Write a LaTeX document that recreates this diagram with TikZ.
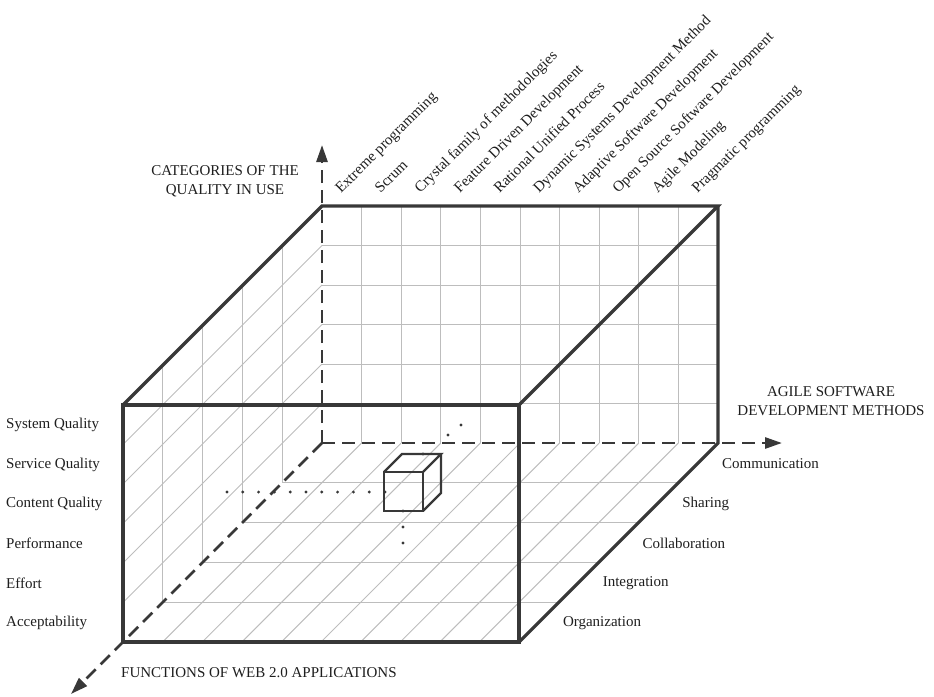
\documentclass[tikz,border=0pt]{standalone}
\usepackage{fontspec}
\setmainfont{Liberation Serif}
\usetikzlibrary{arrows.meta}
\definecolor{edgecol}{HTML}{383838}
\definecolor{gridcol}{HTML}{BDBDBD}
\definecolor{txtcol}{HTML}{1E1E1E}
\tikzset{
  gridline/.style={draw=gridcol, line width=1pt},
  edgeline/.style={draw=edgecol, line width=3.2pt, line join=miter},
  axisline/.style={draw=edgecol, line width=2.7pt, dash pattern=on 13pt off 7pt,
    -{Triangle[length=17pt,width=11pt]}},
  cubeline/.style={draw=edgecol, line width=2.4pt, line join=miter},
  lbl/.style={font=\fontsize{15}{19}\selectfont, text=txtcol, inner sep=0pt},
  toplbl/.style={lbl, anchor=base west, rotate=45},
  dotmark/.style={fill=edgecol, draw=none}
}
\begin{document}
\begin{tikzpicture}[x=1pt, y=-1pt]
\useasboundingbox (0,0) rectangle (934,696);
% corners of the big cube
\coordinate (BTL) at (322,206);
\coordinate (BTR) at (718,206);
\coordinate (BBR) at (718,443);
\coordinate (BBL) at (322,443);
\coordinate (FTL) at (123,405);
\coordinate (FTR) at (519,405);
\coordinate (FBL) at (123,642);
\coordinate (FBR) at (519,642);
\coordinate (Yend) at (322,145);
\coordinate (Xend) at (782,443);
\coordinate (Zend) at (71,694);
% back wall grid
\foreach \i in {1,...,9}
  \draw[gridline] ({322+39.6*\i},206) -- ({322+39.6*\i},443);
\foreach \j in {1,...,5}
  \draw[gridline] (322,{206+39.5*\j}) -- (718,{206+39.5*\j});
% left wall grid
\foreach \k in {1,...,4}
  \draw[gridline] ({322-39.8*\k},{206+39.8*\k}) -- ({322-39.8*\k},{443+39.8*\k});
\foreach \j in {1,...,5}
  \draw[gridline] (322,{206+39.5*\j}) -- (123,{405+39.5*\j});
% floor grid
\foreach \k in {1,...,4}
  \draw[gridline] ({322-39.8*\k},{443+39.8*\k}) -- ({718-39.8*\k},{443+39.8*\k});
\foreach \i in {1,...,9}
  \draw[gridline] ({322+39.6*\i},443) -- ({123+39.6*\i},642);
% axes
\draw[axisline] (BBL) -- (Yend);
\draw[axisline] (BBL) -- (Xend);
\draw[axisline] (BBL) -- (Zend);
% thick edges
\draw[edgeline] (FTL) -- (FTR) -- (FBR) -- (FBL) -- cycle;
\draw[edgeline] (FTL) -- (BTL) -- (BTR) -- (FTR);
\draw[edgeline] (BTR) -- (BBR) -- (FBR);
% small cube
\coordinate (cFTL) at (384,472);
\coordinate (cFTR) at (423,472);
\coordinate (cFBL) at (384,511);
\coordinate (cFBR) at (423,511);
\coordinate (cBTL) at (402,454);
\coordinate (cBTR) at (441,454);
\coordinate (cBBR) at (441,493);
\draw[cubeline] (cFTL) -- (cFTR) -- (cFBR) -- (cFBL) -- cycle;
\draw[cubeline] (cFTL) -- (cBTL) -- (cBTR) -- (cFTR);
\draw[cubeline] (cBTR) -- (cBBR) -- (cFBR);
% dotted projections
\foreach \n in {0,...,10}
  \fill[dotmark] ({227+15.8*\n},492) circle (1.6pt);
\foreach \yy in {511,527,543}
  \fill[dotmark] (403,\yy) circle (1.6pt);
\foreach \p in {(423,454),(448,435),(461,425)}
  \fill[dotmark] \p circle (1.6pt);
% axis titles
\node[lbl, align=center] (ttlY) at (225,181) {CATEGORIES OF THE\\QUALITY IN USE};
\node[lbl, align=center] (ttlX) at (831,401) {AGILE SOFTWARE\\DEVELOPMENT METHODS};
\node[lbl, anchor=west] (ttlZ) at (121,673) {FUNCTIONS OF WEB 2.0 APPLICATIONS};
% left labels
\foreach \t [count=\j from 0] in {System Quality, Service Quality, Content Quality, Performance, Effort, Acceptability}
  \node[lbl, anchor=west] (L\j) at (6,{425+39.5*\j}) {\t};
% right labels
\foreach \t [count=\k from 0] in {Communication, Sharing, Collaboration, Integration, Organization}
  \node[lbl, anchor=west] (R\k) at ({722-39.8*\k},{464+39.8*\k}) {\t};
% top labels
\foreach \t [count=\i from 0] in {Extreme programming, Scrum, Crystal family of methodologies, Feature Driven Development, Rational Unified Process, Dynamic Systems Development Method, Adaptive Software Development, Open Source Software Development, Agile Modeling, Pragmatic programming}
  \node[toplbl] (T\i) at ({341+39.6*\i},194) {\t};
\end{tikzpicture}
\end{document}
